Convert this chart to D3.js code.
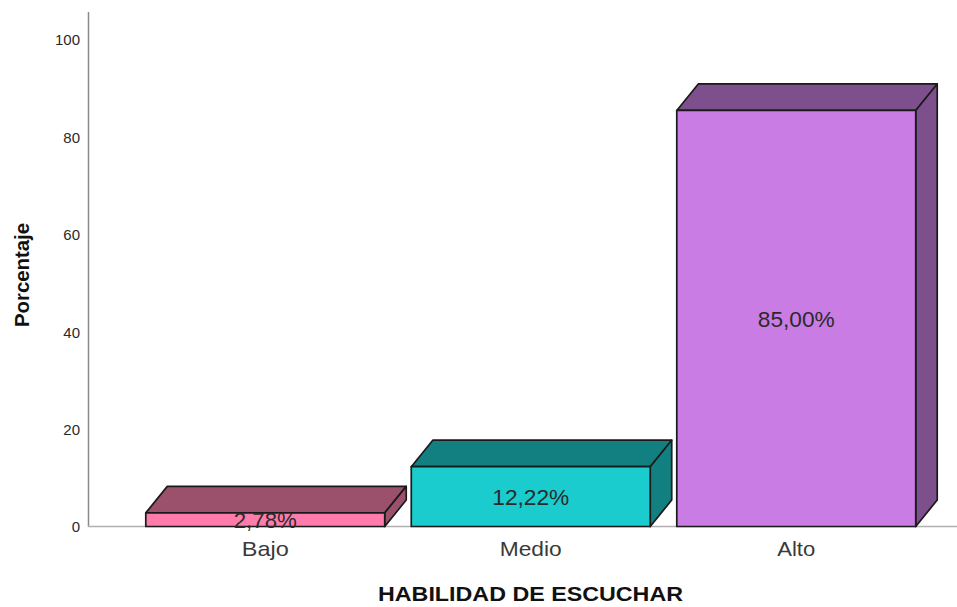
<!DOCTYPE html>
<html><head><meta charset="utf-8">
<script src="https://cdn.jsdelivr.net/npm/d3@7"></script>
<style>html,body{margin:0;padding:0;background:#fff}svg{display:block}text{font-family:"Liberation Sans",Arial,sans-serif}</style>
</head><body><svg id="c" width="957" height="607"></svg>
<script>
const categories = ["Bajo","Medio","Alto"];
const values = [2.78,12.22,85.0];
const valueLabels = ["2,78%","12,22%","85,00%"];
const frontColors = ["#ff7bac","#1accce","#c97de4"];
const sideColors = ["#9b506c","#128080","#7d4f8c"];
const yTicks = [0,20,40,60,80,100];
const xTitle = "HABILIDAD DE ESCUCHAR";
const yTitle = "Porcentaje";

const depthX = 21.5, depthY = 26.5;
const svg = d3.select("#c");
const x = d3.scaleBand().domain(categories).range([132.5,929]).paddingInner(0.1).paddingOuter(0.05);
const y = d3.scaleLinear().domain([0,100]).range([526.5,37]);
const yLabelPos = d3.scaleLinear().domain([0,100]).range([527,40]);

const axisY = svg.append("g").attr("transform","translate(80,0)")
  .call(d3.axisLeft(yLabelPos).tickValues(yTicks).tickSize(0).tickPadding(0).tickFormat(d3.format("d")));
axisY.select(".domain").remove();
axisY.selectAll("text").attr("font-size",15).attr("fill","#2a2a2a").style("font-family",'"Liberation Sans",Arial,sans-serif');

svg.append("line").attr("x1",88.5).attr("x2",88.5).attr("y1",12).attr("y2",527).attr("stroke","#8a8a8a").attr("stroke-width",1.5);
svg.append("line").attr("x1",88).attr("x2",957).attr("y1",526.5).attr("y2",526.5).attr("stroke","#b0b0b0").attr("stroke-width",1.5);

const g = svg.selectAll("g.bar").data(categories).join("g").attr("class","bar");
const stroke = {stroke:"#1a1a1a","stroke-width":1.7,"stroke-linejoin":"round"};
function st(s){ for(const k in stroke) s.attr(k,stroke[k]); return s; }
st(g.append("path").attr("fill",(d,i)=>sideColors[i]).attr("d",(d,i)=>{
  const l=x(d), r=l+x.bandwidth(), t=y(values[i]);
  return `M${l},${t}L${l+depthX},${t-depthY}L${r+depthX},${t-depthY}L${r},${t}Z`;}));
st(g.append("path").attr("fill",(d,i)=>sideColors[i]).attr("d",(d,i)=>{
  const r=x(d)+x.bandwidth(), t=y(values[i]), b=y(0);
  return `M${r},${t}L${r+depthX},${t-depthY}L${r+depthX},${b-depthY}L${r},${b}Z`;}));
st(g.append("rect").attr("fill",(d,i)=>frontColors[i])
  .attr("x",d=>x(d)).attr("width",x.bandwidth())
  .attr("y",(d,i)=>y(values[i])).attr("height",(d,i)=>y(0)-y(values[i])));

g.append("text").attr("text-anchor","middle").attr("font-size",22.5).attr("fill","#2a2a2a")
  .attr("textLength",(d,i)=>[63,77,77][i]).attr("lengthAdjust","spacingAndGlyphs")
  .attr("x",d=>x(d)+x.bandwidth()/2).attr("y",(d,i)=>y(values[i]/2)+8.5)
  .text((d,i)=>valueLabels[i]);

svg.selectAll("text.cat").data(categories).join("text").attr("class","cat")
  .attr("text-anchor","middle").attr("font-size",21).attr("fill","#3a3a3a")
  .attr("textLength",(d,i)=>[47,62,38][i]).attr("lengthAdjust","spacingAndGlyphs")
  .attr("x",d=>x(d)+x.bandwidth()/2).attr("y",556).text(d=>d);

svg.append("text").attr("x",530.5).attr("y",601).attr("text-anchor","middle")
  .attr("font-size",21).attr("font-weight","bold").attr("fill","#111")
  .attr("textLength",305).attr("lengthAdjust","spacingAndGlyphs").text(xTitle);
svg.append("text").attr("transform","translate(29,275) rotate(-90)").attr("text-anchor","middle")
  .attr("font-size",21).attr("font-weight","bold").attr("fill","#111")
  .attr("textLength",104).attr("lengthAdjust","spacingAndGlyphs").text(yTitle);
</script></body></html>
